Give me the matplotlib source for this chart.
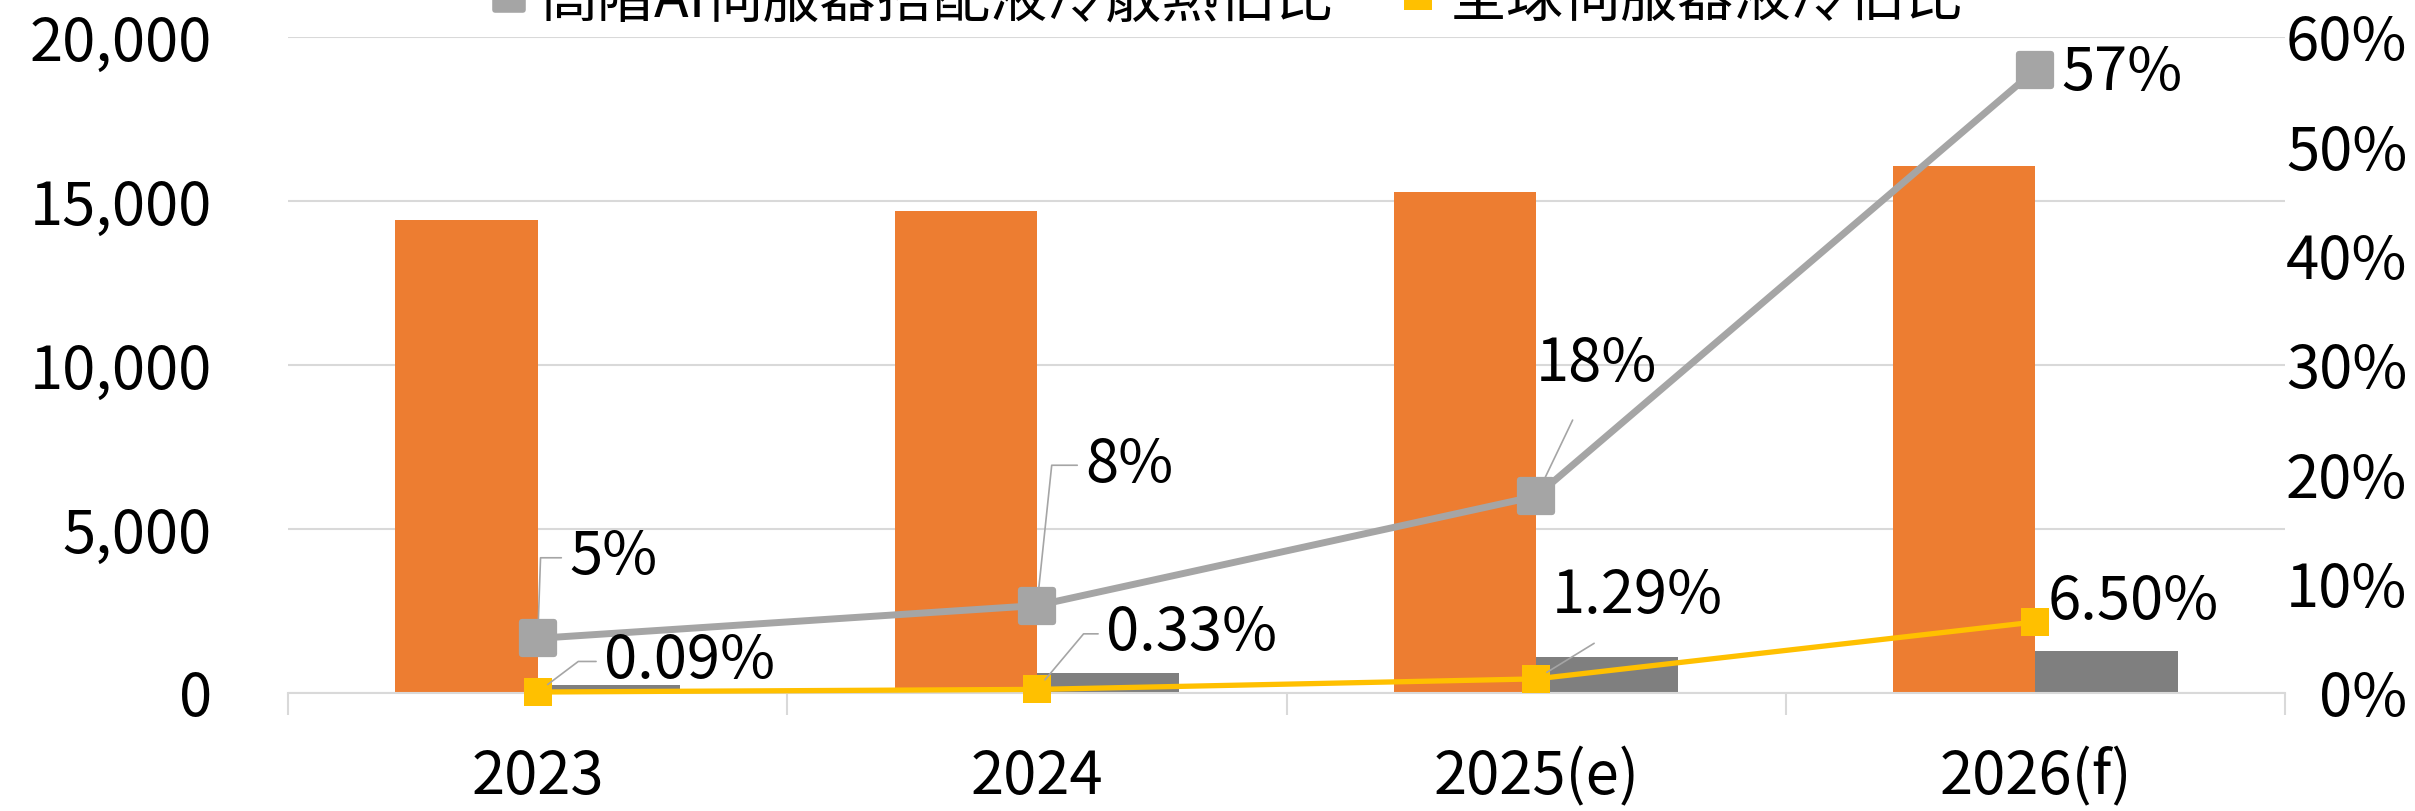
import numpy as np
import matplotlib.pyplot as plt
from matplotlib.lines import Line2D
from matplotlib.markers import MarkerStyle
from matplotlib.ticker import FuncFormatter

plt.rcParams['font.family'] = ['Noto Sans CJK TC', 'DejaVu Sans']

# data
years = ['2023', '2024', '2025(e)', '2026(f)']
server_total = [14420, 14700, 15270, 16070]      # orange bars (left axis)
ai_server = [240, 610, 1100, 1280]               # dark grey bars (left axis)
ai_liquid_share = [0.05, 0.08, 0.18, 0.57]       # grey line (right axis)
global_liquid_share = [0.0009, 0.0033, 0.0129, 0.065]  # yellow line (right axis)
ai_labels = ['5%', '8%', '18%', '57%']
global_labels = ['0.09%', '0.33%', '1.29%', '6.50%']
legend_names = ['高階AI伺服器搭配液冷散熱佔比', '全球伺服器液冷佔比']

ORANGE = '#ED7D31'
DGRAY = '#7F7F7F'
LGRAY = '#A5A5A5'
YELLOW = '#FFC000'
GRID = '#D9D9D9'
FS = 43

fig = plt.figure(figsize=(24.15, 8.11), dpi=100)
ax = fig.add_axes([0.1193, 0.1455, 0.8269, 0.8089])
ax2 = ax.twinx()

x = np.arange(len(years))
w = 0.285
ax.bar(x - w / 2, server_total, w, color=ORANGE, zorder=2)
ax.bar(x + w / 2, ai_server, w, color=DGRAY, zorder=2)

ax.set_xlim(-0.5, 3.5)
ax.set_ylim(0, 20000)
ax.set_yticks(np.arange(0, 20001, 5000))
ax.yaxis.set_major_formatter(FuncFormatter(lambda v, p: f'{v:,.0f}'))
ax.yaxis.grid(True, color=GRID, lw=1.5)
ax.set_axisbelow(True)
ax.tick_params(axis='y', length=0, pad=55, labelsize=FS)
ax.set_xticks(x)
ax.set_xticklabels(years)
ax.set_xticks(np.arange(-0.5, 4, 1), minor=True)
ax.tick_params(axis='x', which='major', length=0, pad=39, labelsize=FS)
ax.tick_params(axis='x', which='minor', length=16, width=1.5, color=GRID, direction='out')
for s in ['top', 'left', 'right']:
    ax.spines[s].set_visible(False)
ax.spines['bottom'].set_color(GRID)
ax.spines['bottom'].set_linewidth(1.5)

rmark = MarkerStyle('s', joinstyle='round')
ax2.plot(x, ai_liquid_share, color=LGRAY, lw=5, marker=rmark, ms=23,
         mew=4.5, mfc=LGRAY, mec=LGRAY, clip_on=False, zorder=3)
ax2.plot(x, global_liquid_share, color=YELLOW, lw=3.8, marker='s', ms=20,
         mew=0, mfc=YELLOW, clip_on=False, zorder=4)
ax2.set_ylim(0, 0.6)
ax2.set_yticks(np.arange(0, 0.61, 0.1))
ax2.yaxis.set_major_formatter(FuncFormatter(lambda v, p: f'{v:.0%}'))
ax2.tick_params(axis='y', length=0, pad=88, labelsize=FS)
plt.setp(ax2.get_yticklabels(), ha='right')
for s in ax2.spines.values():
    s.set_visible(False)

# data labels: (offset in points, leader style)
ai_pos = [((23, 58), 'angle,angleA=0,angleB=88'),
          ((35, 101), 'angle,angleA=0,angleB=84'),
          ((0, 95), None),
          ((19, -3), 'none')]
gl_pos = [((48, 22), 'angle,angleA=0,angleB=37'),
          ((50, 40), 'angle,angleA=0,angleB=50'),
          ((11, 59), None),
          ((9, 14), 'none')]


def put_labels(vals, labels, pos, shrink_b):
    for i, (v, t, (off, cs)) in enumerate(zip(vals, labels, pos)):
        kw = dict(textcoords='offset points', xytext=off, ha='left', va='center',
                  fontsize=FS, zorder=6)
        if cs == 'none':
            ax2.annotate(t, xy=(x[i], v), **kw)
        elif cs is None:
            ax2.annotate(t, xy=(x[i], v), arrowprops=dict(
                arrowstyle='-', color=LGRAY, lw=1.2, relpos=(0.4, 0.0),
                shrinkA=18, shrinkB=shrink_b), **kw)
        else:
            ax2.annotate(t, xy=(x[i], v), arrowprops=dict(
                arrowstyle='-', color=LGRAY, lw=1.2, relpos=(0.0, 0.5),
                connectionstyle=cs, shrinkA=4, shrinkB=shrink_b), **kw)


put_labels(ai_liquid_share, ai_labels, ai_pos, 13)
put_labels(global_liquid_share, global_labels, gl_pos, 9)

handles = [Line2D([], [], color=LGRAY, lw=5, marker=rmark, ms=20, mew=4, mfc=LGRAY, mec=LGRAY),
           Line2D([], [], color=YELLOW, lw=3.8, marker='s', ms=20, mew=0, mfc=YELLOW)]
fig.legend(handles, legend_names, loc='center', bbox_to_anchor=(0.507, 1.0), ncol=2,
           frameon=False, fontsize=41, handlelength=0.8, handletextpad=0.15,
           columnspacing=1.1)

fig.savefig('out.png', dpi=100)
